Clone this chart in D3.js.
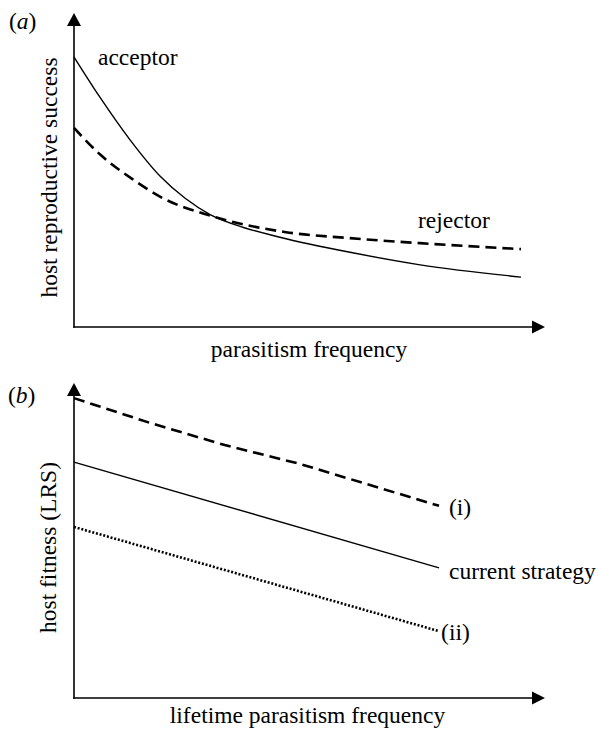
<!DOCTYPE html>
<html>
<head>
<meta charset="utf-8">
<script src="https://cdn.jsdelivr.net/npm/d3@7"></script>
<style>
  html, body { margin: 0; padding: 0; background: #fff; }
  svg { display: block; }
  text { font-family: "Liberation Serif", "Times New Roman", serif; font-size: 23.5px; fill: #000; }
</style>
</head>
<body>
<script>
// ---- Panel (a) data ----
const acceptorX = [0, 0.55, 1.19, 1.83, 2.36, 2.89, 3.6, 4.37, 5.86, 7.35, 9.49];
const acceptorY = [8.6, 7.32, 5.96, 4.8, 4.1, 3.58, 3.17, 2.86, 2.38, 1.98, 1.59];
const rejectorX = [0, 0.55, 1.25, 1.89, 2.89, 4.5, 5.86, 7.35, 9.49];
const rejectorY = [6.34, 5.5, 4.7, 4.1, 3.55, 3.02, 2.83, 2.67, 2.48];

// ---- Panel (b) data ----
const lineIX = [0, 1.62, 3.2, 4.8, 7.75];
const lineIY = [9.52, 8.73, 8.03, 7.43, 6.10];
const currentX = [0, 7.75];
const currentY = [7.49, 4.13];
const lineIIX = [0, 7.73];
const lineIIY = [5.43, 2.13];

// ---- Text ----
const panelLabels = ["a", "b"];
const yLabels = ["host reproductive success", "host fitness (LRS)"];
const xLabels = ["parasitism frequency", "lifetime parasitism frequency"];
const seriesLabelsA = ["acceptor", "rejector"];
const seriesLabelsB = ["(i)", "current strategy", "(ii)"];

const W = 599, H = 731;
const svg = d3.select("body").append("svg").attr("width", W).attr("height", H);

const x = d3.scaleLinear().domain([0, 10]).range([74, 545]);
const yA = d3.scaleLinear().domain([0, 10]).range([327, 13]);
const yB = d3.scaleLinear().domain([0, 10]).range([698, 383]);

function axes(y) {
  const g = svg.append("g");
  const x0 = x(0), y0 = y(0), xTip = x(10), yTip = y(10);
  g.append("line").attr("x1", x0).attr("y1", y0 + 0.8).attr("x2", x0).attr("y2", yTip + 12)
    .attr("stroke", "#000").attr("stroke-width", 1.6);
  g.append("line").attr("x1", x0 - 0.8).attr("y1", y0).attr("x2", xTip - 12).attr("y2", y0)
    .attr("stroke", "#000").attr("stroke-width", 1.6);
  g.append("path").attr("d", `M${x0},${yTip} L${x0 - 7},${yTip + 13} L${x0 + 7},${yTip + 13} Z`).attr("fill", "#000");
  g.append("path").attr("d", `M${xTip},${y0} L${xTip - 13},${y0 - 6.5} L${xTip - 13},${y0 + 6.5} Z`).attr("fill", "#000");
}

function series(xs, ys, y, curve, width, dash) {
  const data = xs.map((v, i) => [v, ys[i]]);
  const line = d3.line().x(d => x(d[0])).y(d => y(d[1])).curve(curve);
  const p = svg.append("path").datum(data).attr("d", line)
    .attr("fill", "none").attr("stroke", "#000").attr("stroke-width", width);
  if (dash) p.attr("stroke-dasharray", dash);
  return data;
}

// Panel (a)
axes(yA);
series(acceptorX, acceptorY, yA, d3.curveMonotoneX, 1.4, null);
series(rejectorX, rejectorY, yA, d3.curveMonotoneX, 2.6, "11,6");

// Panel (b)
axes(yB);
series(lineIX, lineIY, yB, d3.curveLinear, 2.6, "11,6");
series(currentX, currentY, yB, d3.curveLinear, 1.4, null);
series(lineIIX, lineIIY, yB, d3.curveLinear, 2.6, "2,1.8");

// Panel letters
function panelLetter(letter, px, py) {
  const t = svg.append("text").attr("x", px).attr("y", py);
  t.append("tspan").text("(");
  t.append("tspan").attr("font-style", "italic").text(letter);
  t.append("tspan").text(")");
}
panelLetter(panelLabels[0], 9, 29);
panelLetter(panelLabels[1], 8, 403);

// Axis titles
svg.append("text").attr("transform", "translate(57,177.5) rotate(-90)").attr("text-anchor", "middle").text(yLabels[0]);
svg.append("text").attr("transform", "translate(56,547.5) rotate(-90)").attr("text-anchor", "middle").text(yLabels[1]);
svg.append("text").attr("x", 309).attr("y", 357).attr("text-anchor", "middle").text(xLabels[0]);
svg.append("text").attr("x", 307.5).attr("y", 723).attr("text-anchor", "middle").text(xLabels[1]);

// Series labels
svg.append("text").attr("x", 98).attr("y", 65).text(seriesLabelsA[0]);
svg.append("text").attr("x", 418).attr("y", 228).text(seriesLabelsA[1]);
svg.append("text").attr("x", x(lineIX[lineIX.length - 1]) + 10).attr("y", 515).text(seriesLabelsB[0]);
svg.append("text").attr("x", x(currentX[currentX.length - 1]) + 10).attr("y", 579).text(seriesLabelsB[1]);
svg.append("text").attr("x", x(lineIIX[lineIIX.length - 1]) + 3).attr("y", 640).text(seriesLabelsB[2]);
</script>
</body>
</html>
